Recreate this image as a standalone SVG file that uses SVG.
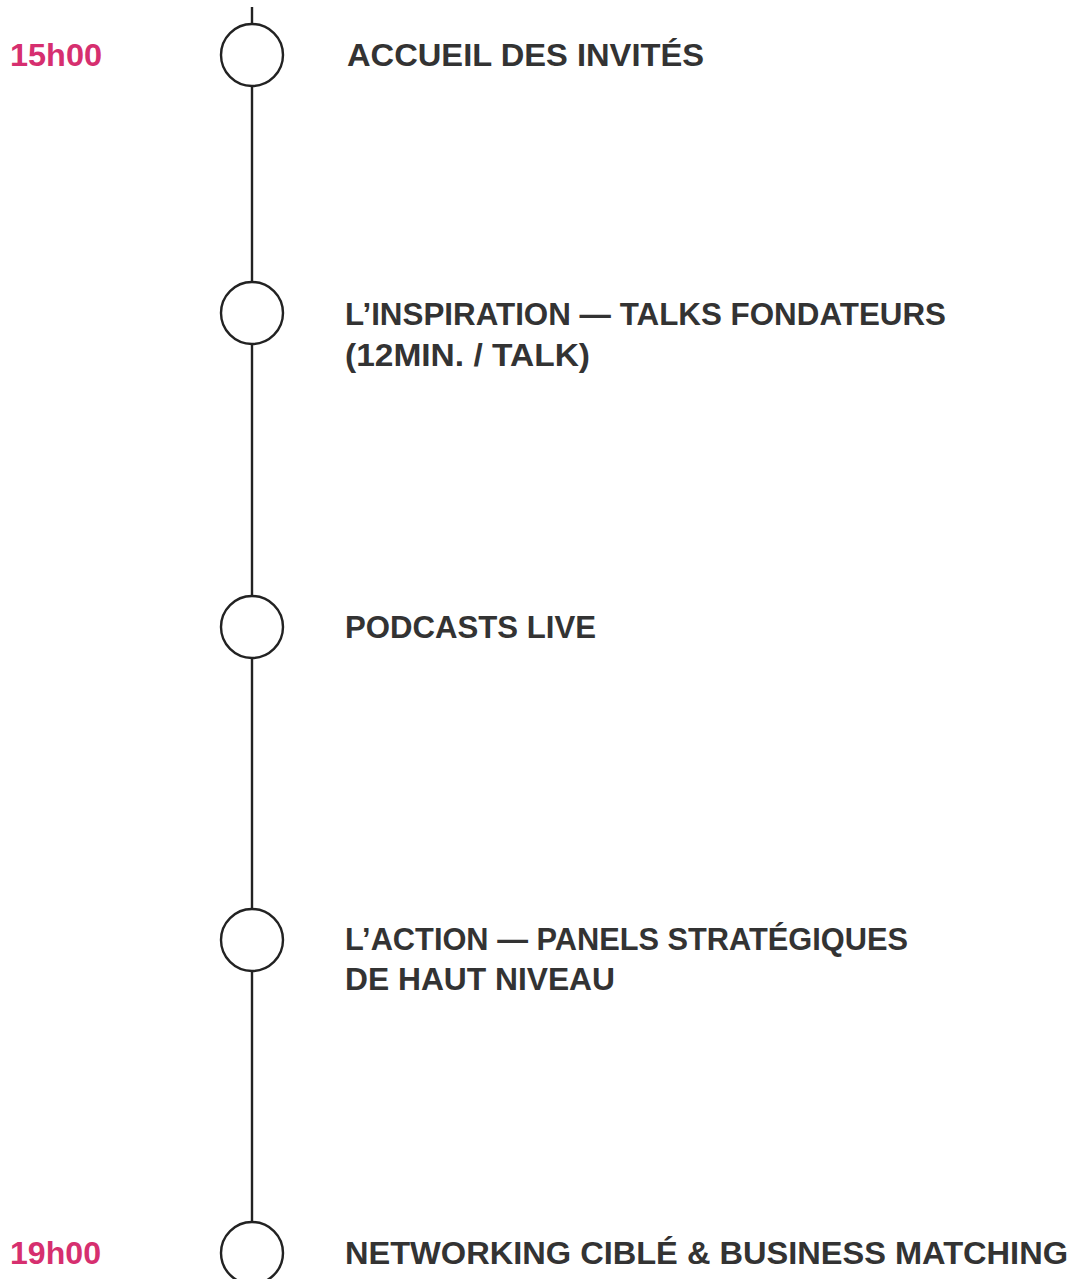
<svg xmlns="http://www.w3.org/2000/svg" width="1077" height="1279" viewBox="0 0 1077 1279">
<style>
.t{font-family:"Liberation Sans",Arial,sans-serif;font-weight:700;font-size:31.5px;fill:#333333}
.h{font-family:"Liberation Sans",Arial,sans-serif;font-weight:700;font-size:31.5px;fill:#d62f6f}
.c{fill:#ffffff;stroke:#222222;stroke-width:2.4}
.l{stroke:#222222;stroke-width:2.4;fill:none}
</style>
<rect width="1077" height="1279" fill="#ffffff"/>
<g id="connectors">
<line class="l" x1="252" y1="7" x2="252" y2="1279"/>
</g>
<g id="time-15h00"><text class="h" x="10" y="66" textLength="92" lengthAdjust="spacingAndGlyphs">15h00</text></g>
<g id="time-19h00"><text class="h" x="10" y="1264" textLength="91" lengthAdjust="spacingAndGlyphs">19h00</text></g>
<g id="node-1">
<circle class="c" cx="252" cy="55" r="31"/>
<text class="t" x="347" y="66" textLength="357" lengthAdjust="spacingAndGlyphs">ACCUEIL DES INVITÉS</text>
</g>
<g id="node-2">
<circle class="c" cx="252" cy="313" r="31"/>
<text class="t" x="345" y="325" textLength="601" lengthAdjust="spacingAndGlyphs">L’INSPIRATION — TALKS FONDATEURS</text>
<text class="t" x="345" y="366" textLength="245" lengthAdjust="spacingAndGlyphs">(12MIN. / TALK)</text>
</g>
<g id="node-3">
<circle class="c" cx="252" cy="627" r="31"/>
<text class="t" x="345" y="638" textLength="251" lengthAdjust="spacingAndGlyphs">PODCASTS LIVE</text>
</g>
<g id="node-4">
<circle class="c" cx="252" cy="940" r="31"/>
<text class="t" x="345" y="950" textLength="563" lengthAdjust="spacingAndGlyphs">L’ACTION — PANELS STRATÉGIQUES</text>
<text class="t" x="345" y="990" textLength="270" lengthAdjust="spacingAndGlyphs">DE HAUT NIVEAU</text>
</g>
<g id="node-5">
<circle class="c" cx="252" cy="1253" r="31"/>
<text class="t" x="345" y="1264" textLength="723" lengthAdjust="spacingAndGlyphs">NETWORKING CIBLÉ &amp; BUSINESS MATCHING</text>
</g>
</svg>
